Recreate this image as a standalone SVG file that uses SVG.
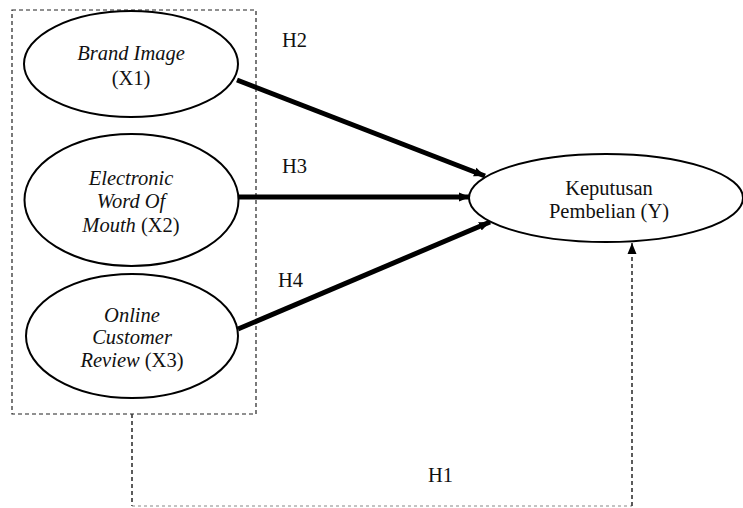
<svg xmlns="http://www.w3.org/2000/svg" width="743" height="508" viewBox="0 0 743 508">
<style>
.node ellipse{fill:#fff;stroke:#000;stroke-width:2}
text{font-family:"Liberation Serif","Times New Roman",serif;font-size:20.5px;fill:#111;text-anchor:middle}
.i{font-style:italic}
.thick{stroke:#000;stroke-width:5;fill:none}
.dash{stroke:#222;stroke-width:1.2;stroke-dasharray:4 3;fill:none}
.dash2{stroke:#333;stroke-width:1.6;stroke-dasharray:4 3;fill:none}
.dash3{stroke:#888;stroke-width:1.2;stroke-dasharray:3 3;fill:none}
.lbl{text-anchor:start}
</style>
<defs>
<marker id="ah" markerUnits="userSpaceOnUse" markerWidth="12" markerHeight="12" viewBox="0 0 12 12" refX="11" refY="6" orient="auto">
<path d="M0,1.5 L11,6 L0,10.5 Z" fill="#000"/>
</marker>
</defs>
<rect id="group-box" x="12" y="10" width="244" height="404" class="dash"/>
<g id="connectors">
<line x1="237" y1="80" x2="485" y2="176" class="thick" marker-end="url(#ah)"/>
<line x1="238" y1="197" x2="470" y2="197" class="thick" marker-end="url(#ah)"/>
<line x1="238" y1="329" x2="490" y2="222" class="thick" marker-end="url(#ah)"/>
<line x1="132" y1="414" x2="132" y2="506" class="dash2"/>
<line x1="132" y1="506" x2="632" y2="506" class="dash3"/>
<line x1="632" y1="506" x2="632" y2="243" class="dash2" marker-end="url(#ah)"/>
</g>
<g id="node-x1" class="node">
<ellipse cx="131" cy="64" rx="107" ry="53"/>
<text x="131" y="60"><tspan class="i">Brand Image</tspan></text>
<text x="131" y="85">(X1)</text>
</g>
<g id="node-x2" class="node">
<ellipse cx="131.5" cy="200" rx="107" ry="66"/>
<text x="131" y="185" class="i">Electronic</text>
<text x="131" y="208" class="i">Word Of</text>
<text x="131" y="232"><tspan class="i">Mouth</tspan> (X2)</text>
</g>
<g id="node-x3" class="node">
<ellipse cx="132" cy="336" rx="106" ry="62"/>
<text x="132" y="322" class="i">Online</text>
<text x="132" y="344" class="i">Customer</text>
<text x="132" y="367"><tspan class="i">Review</tspan> (X3)</text>
</g>
<g id="node-y" class="node">
<ellipse cx="606" cy="198" rx="137" ry="44"/>
<text x="609" y="195">Keputusan</text>
<text x="609" y="218">Pembelian (Y)</text>
</g>
<g id="labels">
<text x="282" y="47" class="lbl">H2</text>
<text x="282" y="173" class="lbl">H3</text>
<text x="278" y="287" class="lbl">H4</text>
<text x="428" y="482" class="lbl">H1</text>
</g>
</svg>
